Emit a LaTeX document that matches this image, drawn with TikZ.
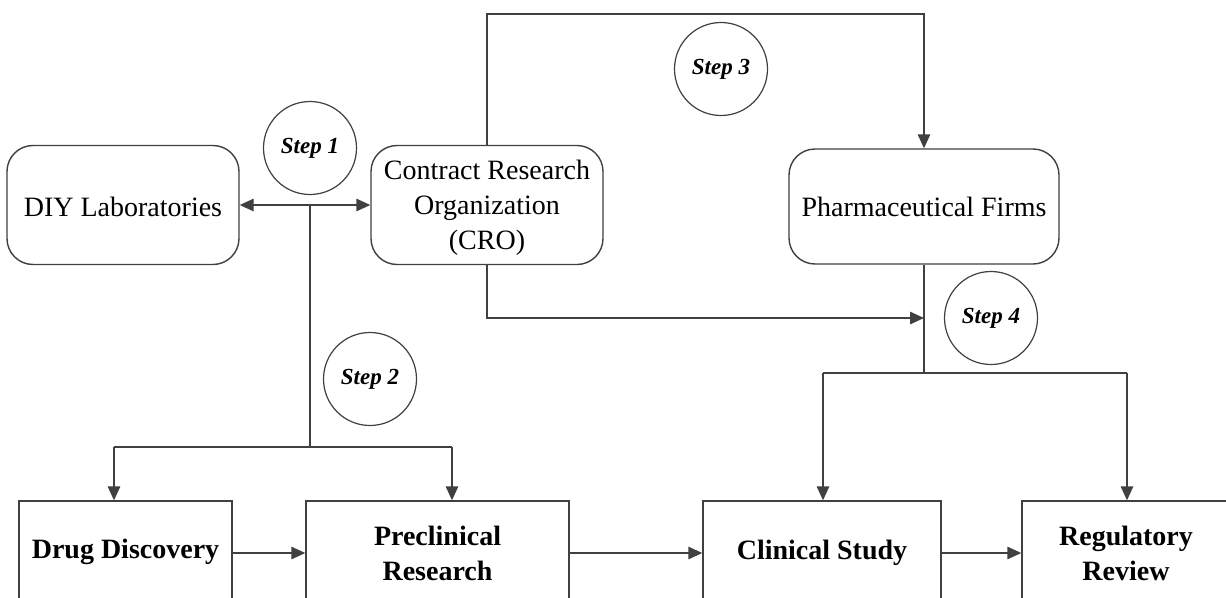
\documentclass[tikz,border=0pt]{standalone}
\usepackage{fontspec}
\setmainfont{Liberation Serif}
\usetikzlibrary{arrows.meta}
\definecolor{linegray}{RGB}{64,64,64}
\begin{document}
\begin{tikzpicture}[x=1pt,y=-1pt,
  line/.style={draw=linegray, line width=1.4pt},
  arr/.style={line, -{Triangle[length=14pt,width=12.5pt]}},
  darr/.style={line, {Triangle[length=14pt,width=12.5pt]}-{Triangle[length=14pt,width=12.5pt]}},
  rbox/.style={draw=linegray, line width=1.4pt, rounded corners=26pt, align=center,
    font=\fontsize{28}{35}\selectfont, inner sep=0pt},
  boxtext/.style={align=center, font=\fontsize{28}{35}\selectfont, inner sep=0pt},
  sbox/.style={draw=linegray, line width=1.4pt, align=center,
    font=\fontsize{28}{35}\selectfont\bfseries, inner sep=0pt, minimum height=104pt},
  stepc/.style={circle, draw=linegray, line width=1.2pt, minimum size=93pt, inner sep=0pt,
    font=\fontsize{23}{26}\selectfont\bfseries\itshape}]
\clip (0,0) rectangle (1226,597);
\fill[white] (0,0) rectangle (1226,597);

% rounded boxes
\node[rbox, minimum width=232pt, minimum height=119pt] (diy) at (123,205) {};
\node[boxtext] (diyt) at (123,207) {DIY Laboratories};
\node[rbox, minimum width=232pt, minimum height=119pt] (cro) at (487,205) {};
\node[boxtext] (crot) at (487,208) {Contract Research\\Organization\\(CRO)};
\node[rbox, minimum width=270pt, minimum height=115pt] (pharm) at (924,206.5) {Pharmaceutical Firms};

% square boxes
\node[sbox, minimum width=213pt] (dd) at (125.5,553) {};
\node[boxtext, font=\fontsize{28}{35}\selectfont\bfseries] (ddt) at (125.5,552) {Drug Discovery};
\node[sbox, minimum width=263pt] (pre) at (437.5,553) {Preclinical\\Research};
\node[sbox, minimum width=238pt] (cli) at (822,553) {Clinical Study};
\node[sbox, minimum width=208pt] (reg) at (1126,553) {Regulatory\\Review};

% step circles
\node[stepc] (s1) at (310,148) {Step 1};
\node[stepc] (s2) at (370,379) {Step 2};
\node[stepc] (s3) at (721,69) {Step 3};
\node[stepc] (s4) at (991,318) {Step 4};

% junction coordinates
\coordinate (j1) at (310,205);
\coordinate (j2) at (310,447);
\coordinate (d1) at (114,447);
\coordinate (d2) at (452,447);
\coordinate (t1) at (700,14);
\coordinate (j4) at (924,318);
\coordinate (j5) at (924,373);
\coordinate (d3) at (823,373);
\coordinate (d4) at (1127,373);

% step 1 connectors
\draw[darr] (diy.east) -- (cro.west);
\draw[line] (j1) -- (j2);
% step 2
\draw[line] (d1) -- (d2);
\draw[arr] (d1) -- (d1 |- dd.north);
\draw[arr] (d2) -- (d2 |- pre.north);
% step 3
\draw[arr] (cro.north) |- (t1) -| (pharm.north);
\draw[arr] (cro.south) |- (j4);
% step 4
\draw[line] (pharm.south) -- (j5);
\draw[line] (d3) -- (d4);
\draw[arr] (d3) -- (d3 |- cli.north);
\draw[arr] (d4) -- (d4 |- reg.north);

% pipeline
\draw[arr] (dd.east) -- (pre.west);
\draw[arr] (pre.east) -- (cli.west);
\draw[arr] (cli.east) -- (reg.west);
\end{tikzpicture}
\end{document}
